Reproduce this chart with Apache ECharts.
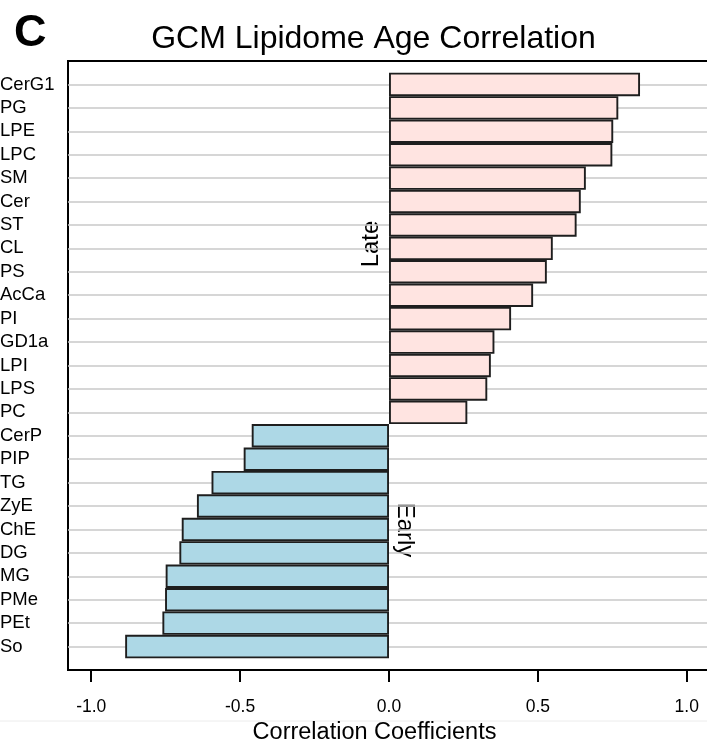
<!DOCTYPE html>
<html>
<head>
<meta charset="utf-8">
<script src="https://cdn.jsdelivr.net/npm/echarts@6/dist/echarts.min.js"></script>
<style>
html,body{margin:0;padding:0;background:#fff;}
#main{width:707px;height:747px;}
</style>
</head>
<body>
<div id="main"></div>
<script>
const categories = ['CerG1','PG','LPE','LPC','SM','Cer','ST','CL','PS','AcCa','PI','GD1a','LPI','LPS','PC','CerP','PIP','TG','ZyE','ChE','DG','MG','PMe','PEt','So'];
const values = [0.843,0.770,0.753,0.750,0.661,0.644,0.630,0.550,0.530,0.484,0.410,0.354,0.342,0.330,0.263,-0.461,-0.488,-0.596,-0.645,-0.696,-0.704,-0.750,-0.752,-0.761,-0.886];
const tickValues = [-1.0,-0.5,0.0,0.5,1.0];
const titleText = 'GCM Lipidome Age Correlation';
const xTitle = 'Correlation Coefficients';
const panelLetter = 'C';

const FONT = '"Liberation Sans", Arial, sans-serif';
const posColor = '#FFE4E1';
const negColor = '#ADD8E6';

// padded category list (blank slot at each end)
const yCats = [''].concat(categories, ['']);
const barData = [null].concat(values.map(v => ({
  value: v,
  itemStyle: { color: v >= 0 ? posColor : negColor }
})), [null]);

const chart = echarts.init(document.getElementById('main'), null, {renderer:'canvas'});
chart.setOption({
  animation: false,
  backgroundColor: '#fff',
  textStyle: { fontFamily: FONT },
  grid: {
    left: 68, top: 61, right: -3, bottom: 77,
    show: true, borderColor: '#000', borderWidth: 2, backgroundColor: 'transparent',
    containLabel: false,
    outerBoundsMode: 'none'
  },
  xAxis: {
    type: 'value',
    min: -1.078, max: 1.078,
    axisLine: { show: false },
    splitLine: { show: false },
    axisTick: { show: true, customValues: tickValues, length: 12, lineStyle: { color: '#000', width: 2 } },
    axisLabel: {
      customValues: tickValues, margin: 28, fontSize: 17.5, color: '#000', fontFamily: FONT,
      formatter: v => v.toFixed(1)
    }
  },
  yAxis: {
    type: 'category',
    data: yCats,
    inverse: true,
    boundaryGap: false,
    axisLine: { show: false },
    axisTick: { show: false },
    axisLabel: { interval: 0, align: 'left', margin: 68, fontSize: 18.5, color: '#000', fontFamily: FONT },
    splitLine: { show: true, interval: (i) => i > 0 && i < yCats.length - 1, lineStyle: { color: '#c8c8c8', width: 1.5 } }
  },
  series: [{
    type: 'bar',
    data: barData,
    barCategoryGap: '0%',
    itemStyle: { borderColor: '#1e1e1e', borderWidth: 1.9 }
  }],
  graphic: [
    { type: 'text', left: 14, top: 11, style: { text: panelLetter, font: 'bold 45px ' + FONT, fill: '#000' } },
    { type: 'text', x: 373.5, y: 39, style: { text: titleText, font: '32px ' + FONT, fill: '#000', textAlign: 'center', textVerticalAlign: 'middle' } },
    { type: 'text', x: 374.5, y: 733, style: { text: xTitle, font: '23.5px ' + FONT, fill: '#000', textAlign: 'center', textVerticalAlign: 'middle' } },
    { type: 'text', x: 371, y: 244, rotation: Math.PI / 2, style: { text: 'Late', font: '24px ' + FONT, fill: '#000', textAlign: 'center', textVerticalAlign: 'middle' } },
    { type: 'text', x: 405, y: 530, rotation: -Math.PI / 2, style: { text: 'Early', font: '24px ' + FONT, fill: '#000', textAlign: 'center', textVerticalAlign: 'middle' } },
    { type: 'line', shape: { x1: 0, y1: 721, x2: 707, y2: 721 }, style: { stroke: '#ececec', lineWidth: 1 }, z: -1 }
  ]
});
</script>
</body>
</html>
